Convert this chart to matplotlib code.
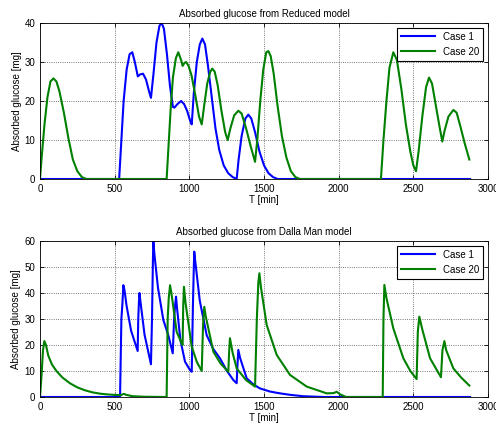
import numpy as np
import matplotlib
matplotlib.use('Agg')
import matplotlib.pyplot as plt

plt.rcParams['font.family'] = ['Liberation Sans', 'DejaVu Sans']

# Reduced model (top)
red_case1_t = [0, 530, 545, 560, 580, 600, 618, 635, 655, 670, 690, 710, 730, 743, 760, 780,
               800, 815, 830, 850, 870, 890, 900, 920, 945, 965, 985, 1005, 1016, 1030, 1050,
               1070, 1087, 1105, 1125, 1150, 1175, 1200, 1230, 1260, 1290, 1317, 1330, 1350,
               1375, 1395, 1415, 1440, 1470, 1500, 1530, 1560, 1590, 2880]
red_case1_g = [0, 0, 10, 20, 28, 32, 32.5, 30, 26.3, 26.8, 27, 25.5, 22.5, 20.8, 27, 35,
               39.3, 40, 38.5, 32, 24, 18.5, 18.3, 19.2, 20, 19.2, 17.5, 15, 14, 22, 30,
               34.5, 36, 34.5, 29, 21, 13, 7.5, 3.5, 1.5, 0.5, 0, 5, 11,
               15.5, 16.5, 15.5, 12, 7, 3.5, 1.5, 0.5, 0, 0]
red_case20_t = [0, 10, 30, 50, 70, 90, 110, 130, 160, 190, 220, 250, 280, 310, 848, 860, 875,
                890, 910, 926, 945, 955, 968, 978, 995, 1015, 1040, 1065, 1083, 1100, 1120,
                1140, 1154, 1170, 1190, 1215, 1240, 1257, 1275, 1300, 1328, 1350, 1380, 1410,
                1440, 1455, 1475, 1495, 1515, 1529, 1545, 1565, 1590, 1620, 1650, 1680, 1710,
                1740, 2283, 2300, 2320, 2340, 2366, 2390, 2420, 2450, 2480, 2500, 2518, 2535,
                2560, 2585, 2605, 2625, 2650, 2675, 2694, 2710, 2735, 2768, 2790, 2815, 2845,
                2875]
red_case20_g = [0, 5, 14, 21, 25, 25.8, 25, 22.5, 17, 10.5, 5, 2, 0.5, 0, 0, 8, 18,
                26, 31, 32.5, 30.5, 29, 29.8, 30, 29, 26.5, 21.5, 16, 14, 19, 24.5,
                27.5, 28.3, 27.5, 24, 17.5, 12, 10, 13, 16.3, 17.5, 16.8, 13, 8.5,
                4.4, 10, 20, 28, 32.5, 32.8, 31.5, 27, 19, 11, 5.5, 2, 0.5,
                0, 0, 10, 20, 28.5, 32.5, 30.5, 23, 14, 7, 3.5, 2, 7,
                16, 23.5, 26, 24.5, 19, 13.5, 9.6, 12.5, 16, 17.7, 17, 13.5, 9,
                5]

# Dalla Man model (bottom)
dm_case1_t = [0, 536, 545, 552, 558, 566, 580, 610, 654, 658, 662, 666, 672, 700, 743, 750,
              756, 759, 766, 790, 826, 859, 889, 898, 906, 911, 918, 940, 971, 1004, 1016,
              1024, 1030, 1033, 1040, 1070, 1116, 1160, 1205, 1250, 1295, 1317, 1322, 1328,
              1340, 1384, 1430, 1473, 1540, 1607, 1680, 1763, 1900, 2880]
dm_case1_g = [0, 0, 30, 36, 43, 41, 35, 25.5, 17.7, 30, 36, 40, 37, 24, 12.6, 30,
              52, 60, 55, 42, 29.6, 23.8, 16.8, 30, 36, 38.6, 34, 22, 13.6, 10.4, 9.7,
              35, 50, 55.9, 52, 37, 23.8, 18.5, 14.9, 10.2, 6.5, 5.3, 12, 18.1,
              15, 7.2, 4.8, 3.3, 2.1, 1.4, 0.8, 0.3, 0, 0]
dm_case20_t = [0, 10, 20, 29, 40, 55, 80, 110, 150, 200, 250, 300, 350, 400, 450, 500, 540,
               560, 580, 620, 700, 848, 855, 862, 871, 880, 915, 949, 955, 959, 964, 975,
               1016, 1050, 1083, 1092, 1100, 1110, 1161, 1210, 1261, 1267, 1272, 1290, 1317,
               1380, 1440, 1452, 1462, 1469, 1480, 1518, 1585, 1674, 1786, 1920, 1965, 1987,
               2010, 2050, 2295, 2300, 2306, 2320, 2366, 2433, 2480, 2522, 2530, 2540, 2560,
               2612, 2685, 2695, 2708, 2720, 2768, 2820, 2875]
dm_case20_g = [0, 8, 18, 21.5, 20, 16, 12.5, 10, 7.5, 5.3, 3.7, 2.6, 1.8, 1.3, 1, 0.8, 0.7,
               1.2, 0.8, 0.3, 0.1, 0, 30, 38, 43, 40, 25.1, 20.6, 20, 35, 42.4, 36,
               19.4, 13.5, 10, 28, 34.7, 31, 17.4, 12.8, 9.7, 18, 22.6, 17, 11,
               6.5, 4, 30, 44, 47.6, 42, 27.7, 16.2, 8.5, 4, 1.4, 1.5, 2,
               1, 0, 0, 30, 43.1, 38, 26.4, 14.9, 10, 6.9, 25, 30.9, 26,
               14.9, 7.6, 18, 21.5, 18, 11, 7.5, 4.4]

blue = '#0000ff'
green = '#008000'

fig = plt.figure(figsize=(4.96, 4.25), dpi=100)
ax1 = fig.add_axes([40 / 496, 1 - 179 / 425, 448 / 496, 156 / 425])
ax2 = fig.add_axes([40 / 496, 1 - 397 / 425, 448 / 496, 156 / 425])

panels = [
    (ax1, red_case1_t, red_case1_g, red_case20_t, red_case20_g, 40,
     'Absorbed glucose from Reduced model'),
    (ax2, dm_case1_t, dm_case1_g, dm_case20_t, dm_case20_g, 60,
     'Absorbed glucose from Dalla Man model'),
]

for ax, t1, g1, t20, g20, ymax, title in panels:
    ax.plot(t1, g1, color=blue, lw=1.5, label='Case 1')
    ax.plot(t20, g20, color=green, lw=1.5, label='Case 20')
    ax.set_xlim(0, 3000)
    ax.set_ylim(0, ymax)
    ax.set_xticks(np.arange(0, 3001, 500))
    ax.set_yticks(np.arange(0, ymax + 1, 10))
    ax.grid(True, color='black', linestyle=':', linewidth=0.6, alpha=0.7)
    ax.tick_params(direction='in', top=True, right=True, labelsize=7, length=3, width=0.6)
    for s in ax.spines.values():
        s.set_linewidth(0.6)
    ax.set_title(title, fontsize=7, pad=4)
    ax.set_xlabel('T [min]', fontsize=7, labelpad=1)
    ax.set_ylabel('Absorbed glucose [mg]', fontsize=7, labelpad=2)
    leg = ax.legend(loc='upper right', fontsize=7, fancybox=False, framealpha=1,
                    edgecolor='black', handlelength=3.5, borderaxespad=0.5)
    leg.get_frame().set_linewidth(0.8)

fig.savefig('out.png', dpi=100)
